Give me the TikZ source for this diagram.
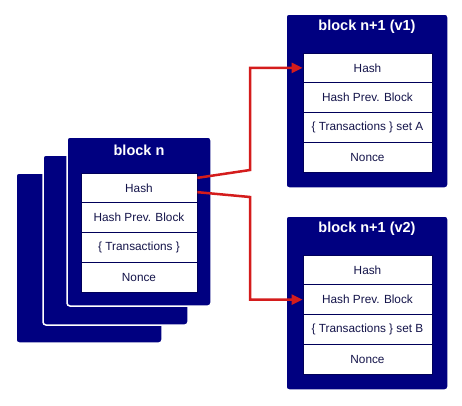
\documentclass[tikz,border=0pt]{standalone}
\usepackage{fontspec}
\setmainfont{Liberation Sans}
\usetikzlibrary{arrows.meta,calc}
\definecolor{blocknavy}{HTML}{000080}
\definecolor{rowtext}{HTML}{14144A}
\definecolor{linkred}{HTML}{D41C1C}
\tikzset{
  blockbox/.style={fill=blocknavy, draw=white, line width=1.5pt, rounded corners=3pt},
  blocktitle/.style={text=white, font=\bfseries\fontsize{14.5}{16}\selectfont, inner sep=0pt},
  rowbox/.style={fill=white, draw=blocknavy!70!black, line width=0.7pt, minimum height=29.75pt, inner sep=0pt, text=rowtext, font=\fontsize{11.8}{13}\selectfont},
  link/.style={draw=linkred, line width=2.5pt, -{Triangle[length=11pt,width=10pt]}}
}
\begin{document}
\begin{tikzpicture}[x=1pt,y=-1pt]
\useasboundingbox (0,0) rectangle (462,405);
% stacked blocks behind block n
\draw[blockbox] (16,173) rectangle (162,343);
\draw[blockbox] (43,155) rectangle (188,325);
% block n
\draw[blockbox] (67,137) rectangle (211,306);
\node[blocktitle] (ntitle) at (139,150) {block n};
\node[rowbox, minimum width=116pt] (nhash) at (139,187.9) {Hash};
\node[rowbox, minimum width=116pt] (nprev) at (139,217.6) {Hash Prev. Block};
\node[rowbox, minimum width=116pt] (ntx) at (139,247.4) {\{ Transactions \}};
\node[rowbox, minimum width=116pt] (nnonce) at (139,277.1) {Nonce};
% block n+1 (v1)
\draw[blockbox] (286,14) rectangle (448,188);
\node[blocktitle] (atitle) at (367,27) {block n+1 (v1)};
\node[rowbox, minimum width=129pt] (ahash) at (367.5,67.9) {Hash};
\node[rowbox, minimum width=129pt] (aprev) at (367.5,97.6) {Hash Prev. Block};
\node[rowbox, minimum width=129pt] (atx) at (367.5,127.4) {\{ Transactions \} set A};
\node[rowbox, minimum width=129pt] (anonce) at (367.5,157.1) {Nonce};
% block n+1 (v2)
\draw[blockbox] (286,216) rectangle (448,390);
\node[blocktitle] (btitle) at (367,229) {block n+1 (v2)};
\node[rowbox, minimum width=129pt] (bhash) at (367.5,269.9) {Hash};
\node[rowbox, minimum width=129pt] (bprev) at (367.5,299.6) {Hash Prev. Block};
\node[rowbox, minimum width=129pt] (btx) at (367.5,329.4) {\{ Transactions \} set B};
\node[rowbox, minimum width=129pt] (bnonce) at (367.5,359.1) {Nonce};
% links
\coordinate (s1) at ($(nhash.north east)!0.17!(nhash.south east)$);
\coordinate (s2) at ($(nhash.north east)!0.64!(nhash.south east)$);
\draw[link, rounded corners=0pt] (s1) -- (250,170) |- (ahash.west);
\draw[link, rounded corners=0pt] (s2) -- (250,197) |- (bprev.west);
\end{tikzpicture}
\end{document}
